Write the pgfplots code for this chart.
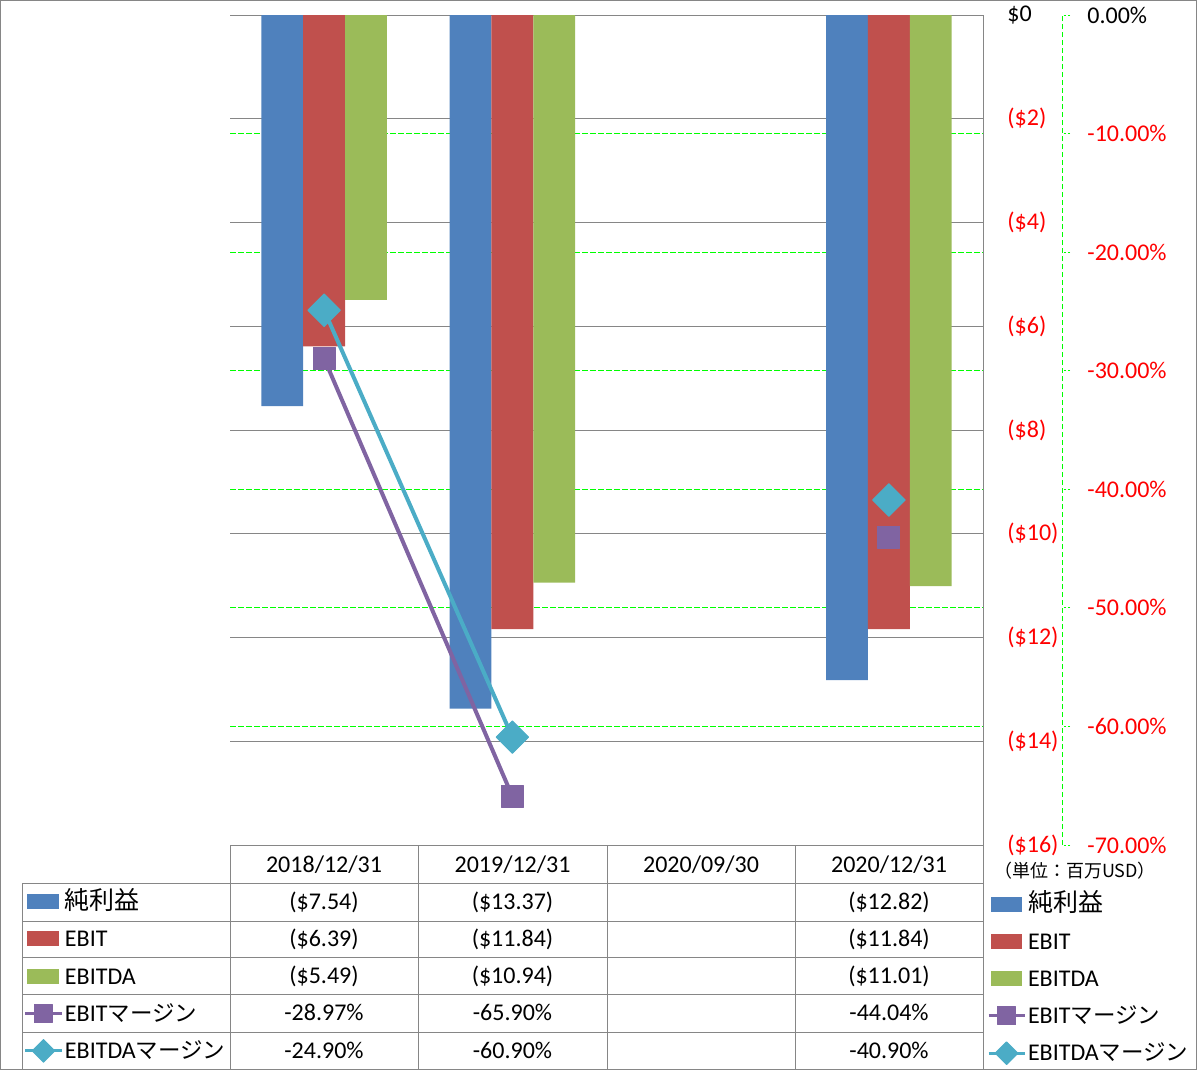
\documentclass[border=0pt]{standalone}
\usepackage{pgfplots}
\pgfplotsset{compat=1.18}
\usepackage{fontspec}
\setmainfont{Carlito}
\newfontfamily\cjk{Noto Sans CJK JP}
\definecolor{cBlue}{HTML}{4F81BD}
\definecolor{cRed}{HTML}{C0504D}
\definecolor{cGreen}{HTML}{9BBB59}
\definecolor{cPurple}{HTML}{8064A2}
\definecolor{cCyan}{HTML}{4BACC6}
\definecolor{gridgray}{HTML}{868686}
\definecolor{lime}{HTML}{00FF00}
\definecolor{txtred}{HTML}{FF0000}
\newcommand{\fs}{\fontsize{12}{14.4}\selectfont}
\newcommand{\R}[1]{\textcolor{txtred}{#1}}
\newcommand{\J}[1]{{\cjk\fontsize{12.5}{14.4}\selectfont #1}}
\newcommand{\K}[1]{{\cjk\fontsize{11.25}{14.4}\selectfont #1}}
\tikzset{keystyle/.style={draw=none, fill=none, inner sep=0pt, outer sep=0pt, row sep=0pt, column sep=0pt, anchor=north west,
    nodes={inner xsep=1pt, inner ysep=0pt, outer sep=0pt, text height=13.2pt, text depth=5.45pt, font=\fs}}}
\pgfplotsset{
  base/.style={at={(115pt,-422.5pt)}, anchor=south west, scale only axis,
    width=376.5pt, height=415pt, xmin=-0.5, xmax=3.5},
  barkey/.style={legend image code/.code={\path[##1, draw=none, fill=#1] (1pt,-3.75pt) rectangle (16.5pt,3.75pt);}},
  linekey/.style={legend image code/.code={\draw[mark repeat=2,mark phase=2,##1,line width=1.5pt,mark size=#1] plot coordinates {(0pt,0pt) (9pt,0pt) (18pt,0pt)};}},
  sPurple/.style={cPurple, line width=2pt, mark=square*, mark size=5.5pt, mark options={fill=cPurple, draw=cPurple, line width=0.5pt, line join=round}},
  sCyan/.style={cCyan, line width=2pt, mark=square*, mark size=5.75pt, mark options={rotate=45, fill=cCyan, draw=cCyan, line width=0.5pt, line join=round}},
}
\begin{document}
\begin{tikzpicture}
\begin{scope}[x=0.5pt, y=-0.5pt, font=\fs]
\draw[gridgray, line width=0.5pt] (0.5,0.5) rectangle (1196.5,1069.5);
\draw[gridgray, line width=0.5pt] (230,845) -- (983,845);
\foreach \yy in {883,921,957,994,1032} \draw[gridgray, line width=0.5pt] (22,\yy) -- (983,\yy);
\draw[gridgray, line width=0.5pt] (22,883) -- (22,1069.5);
\foreach \xx in {230,418,607,795,983} \draw[gridgray, line width=0.5pt] (\xx,845) -- (\xx,1069.5);
% header
\node[anchor=mid] at (324,868) {2018/12/31};
\node[anchor=mid] at (512.5,868) {2019/12/31};
\node[anchor=mid] at (701,868) {2020/09/30};
\node[anchor=mid] at (889,868) {2020/12/31};
% values
\node[anchor=mid] at (324,905) {(\$7.54)};
\node[anchor=mid] at (512.5,905) {(\$13.37)};
\node[anchor=mid] at (889,905) {(\$12.82)};
\node[anchor=mid] at (324,942) {(\$6.39)};
\node[anchor=mid] at (512.5,942) {(\$11.84)};
\node[anchor=mid] at (889,942) {(\$11.84)};
\node[anchor=mid] at (324,978.5) {(\$5.49)};
\node[anchor=mid] at (512.5,978.5) {(\$10.94)};
\node[anchor=mid] at (889,978.5) {(\$11.01)};
\node[anchor=mid] at (324,1016) {-28.97\%};
\node[anchor=mid] at (512.5,1016) {-65.90\%};
\node[anchor=mid] at (889,1016) {-44.04\%};
\node[anchor=mid] at (324,1053.5) {-24.90\%};
\node[anchor=mid] at (512.5,1053.5) {-60.90\%};
\node[anchor=mid] at (889,1053.5) {-40.90\%};
\node[anchor=mid, font=\cjk\fontsize{9}{11}\selectfont] at (1075,873) {（単位：百万USD）};
\end{scope}

% secondary axis: grid, axis line, ticks, labels, left legend
\begin{axis}[base, ymin=-70, ymax=0,
  axis x line=none, axis y line*=right, axis y line shift=39.5pt,
  y axis line style={lime, line width=0.5pt, dash pattern=on 2.75pt off 1.25pt, -},
  ytick={0,-10,-20,-30,-40,-50,-60,-70},
  yticklabels={0.00\%, \R{-10.00\%}, \R{-20.00\%}, \R{-30.00\%}, \R{-40.00\%}, \R{-50.00\%}, \R{-60.00\%}, \R{-70.00\%}},
  ymajorgrids, major grid style={lime, line width=0.5pt, dash pattern=on 2.75pt off 1.25pt},
  tick align=outside, major tick length=4pt,
  ytick style={lime, line width=0.5pt, dash pattern=on 1pt off 1pt},
  yticklabel style={font=\fs, anchor=west, inner sep=0pt, xshift=8.5pt},
  legend cell align=left,
  legend style={keystyle, at={(-0.27357,-0.04578)}},
]
\addlegendimage{barkey=cBlue}\addlegendentry{\J{純利益}}
\addlegendimage{barkey=cRed}\addlegendentry{EBIT}
\addlegendimage{barkey=cGreen}\addlegendentry{EBITDA}
\addlegendimage{linekey=4.5pt, sPurple}\addlegendentry{EBIT\K{マージン}}
\addlegendimage{linekey=4pt, sCyan}\addlegendentry{EBITDA\K{マージン}}
\end{axis}

% primary axis: bars
\begin{axis}[base, ymin=-16, ymax=0,
  axis x line=none, axis y line*=right,
  y axis line style={gridgray, line width=0.5pt, -},
  ytick={0,-2,-4,-6,-8,-10,-12,-14,-16},
  yticklabels={\$0, \R{(\$2)}, \R{(\$4)}, \R{(\$6)}, \R{(\$8)}, \R{(\$10)}, \R{(\$12)}, \R{(\$14)}, \R{(\$16)}},
  major tick length=0pt,
  ymajorgrids, major grid style={gridgray, line width=0.5pt},
  yticklabel style={font=\fs, anchor=west, inner sep=0pt, xshift=12pt},
  ybar=0pt, bar width=20.92pt,
]
\addplot[fill=cBlue, draw=none] coordinates {(0,-7.54) (1,-13.37) (3,-12.82)};
\addplot[fill=cRed, draw=none] coordinates {(0,-6.39) (1,-11.84) (3,-11.84)};
\addplot[fill=cGreen, draw=none] coordinates {(0,-5.49) (1,-10.94) (3,-11.01)};
\end{axis}

% secondary axis: margin lines, right legend
\begin{axis}[base, ymin=-70, ymax=0, hide axis, unbounded coords=jump,
  legend cell align=left,
  legend style={keystyle, at={(1.00531,-0.04861)}},
]
\addlegendimage{barkey=cBlue}\addlegendentry{\J{純利益}}
\addlegendimage{barkey=cRed}\addlegendentry{EBIT}
\addlegendimage{barkey=cGreen}\addlegendentry{EBITDA}
\addplot[linekey=4.5pt, sPurple] coordinates {(0,-28.97) (1,-65.90) (2,nan) (3,-44.04)};
\addlegendentry{EBIT\K{マージン}}
\addplot[linekey=4pt, sCyan] coordinates {(0,-24.90) (1,-60.90) (2,nan) (3,-40.90)};
\addlegendentry{EBITDA\K{マージン}}
\end{axis}
\pgfresetboundingbox
\path[use as bounding box] (0pt,0pt) rectangle (598.5pt,-535.5pt);
\end{tikzpicture}
\end{document}
